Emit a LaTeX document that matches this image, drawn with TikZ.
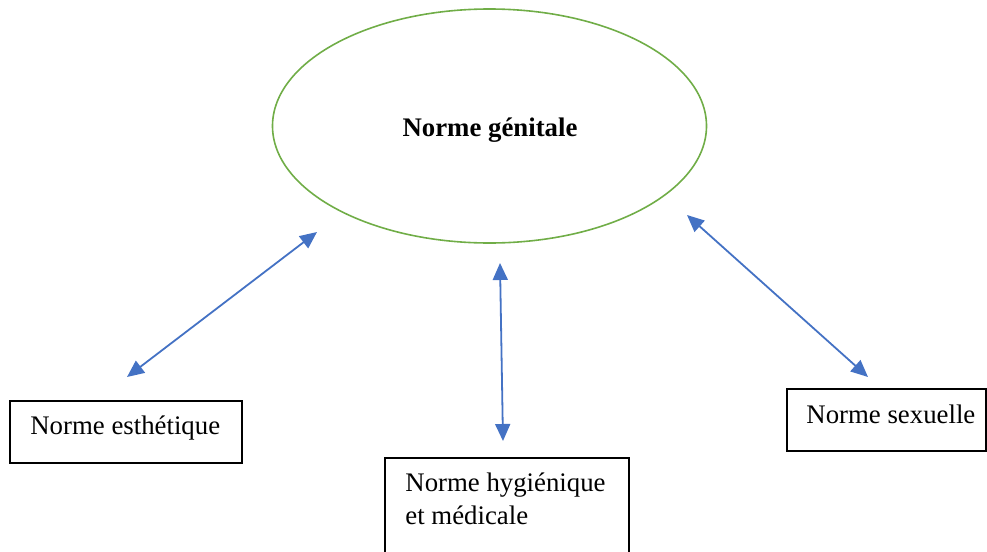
\documentclass[tikz,border=0pt]{standalone}
\usepackage{fontspec}
\setmainfont{Liberation Serif}
\usetikzlibrary{arrows.meta,shapes.geometric}
\definecolor{arrowblue}{HTML}{4472C4}
\definecolor{ellgreen}{HTML}{70AD47}
\tikzset{
  boxstyle/.style={draw=black,line width=0.8pt},
  txt/.style={font=\fontsize{13.4}{15}\selectfont,inner sep=0pt,anchor=west},
  link/.style={draw=arrowblue,line width=0.9pt,{Triangle[length=8.5pt,width=7.5pt]}-{Triangle[length=8.5pt,width=7.5pt]}}
}
\begin{document}
\begin{tikzpicture}[x=0.5pt,y=-0.5pt]
\useasboundingbox (0,0) rectangle (987,552);
\clip (0,0) rectangle (987,552);
% central ellipse
\node (gen) [draw=ellgreen,line width=0.8pt,ellipse,minimum width=217pt,minimum height=117pt,inner sep=0pt] at (489.5,126) {};
\node (gentxt) [font=\fontsize{13.4}{15}\selectfont\bfseries,inner sep=0pt] at (490,130) {Norme génitale};
% boxes
\draw[boxstyle] (10,401) rectangle (242,463);
\node (esth) [txt] at (30,428) {Norme esthétique};
\draw[boxstyle] (385,458) rectangle (629,570);
\node (hyg1) [txt] at (405,485) {Norme hygiénique};
\node (hyg2) [txt] at (405,515) {et médicale};
\draw[boxstyle] (787,389) rectangle (986,451);
\node (sex) [txt] at (806,414) {Norme sexuelle};
% arrow endpoints
\coordinate (a1) at (127,377);
\coordinate (b1) at (317,232);
\coordinate (a2) at (500,263);
\coordinate (b2) at (503,441);
\coordinate (a3) at (687,215);
\coordinate (b3) at (868,377);
\draw[link] (a1) -- (b1);
\draw[link] (a2) -- (b2);
\draw[link] (a3) -- (b3);
\end{tikzpicture}
\end{document}
